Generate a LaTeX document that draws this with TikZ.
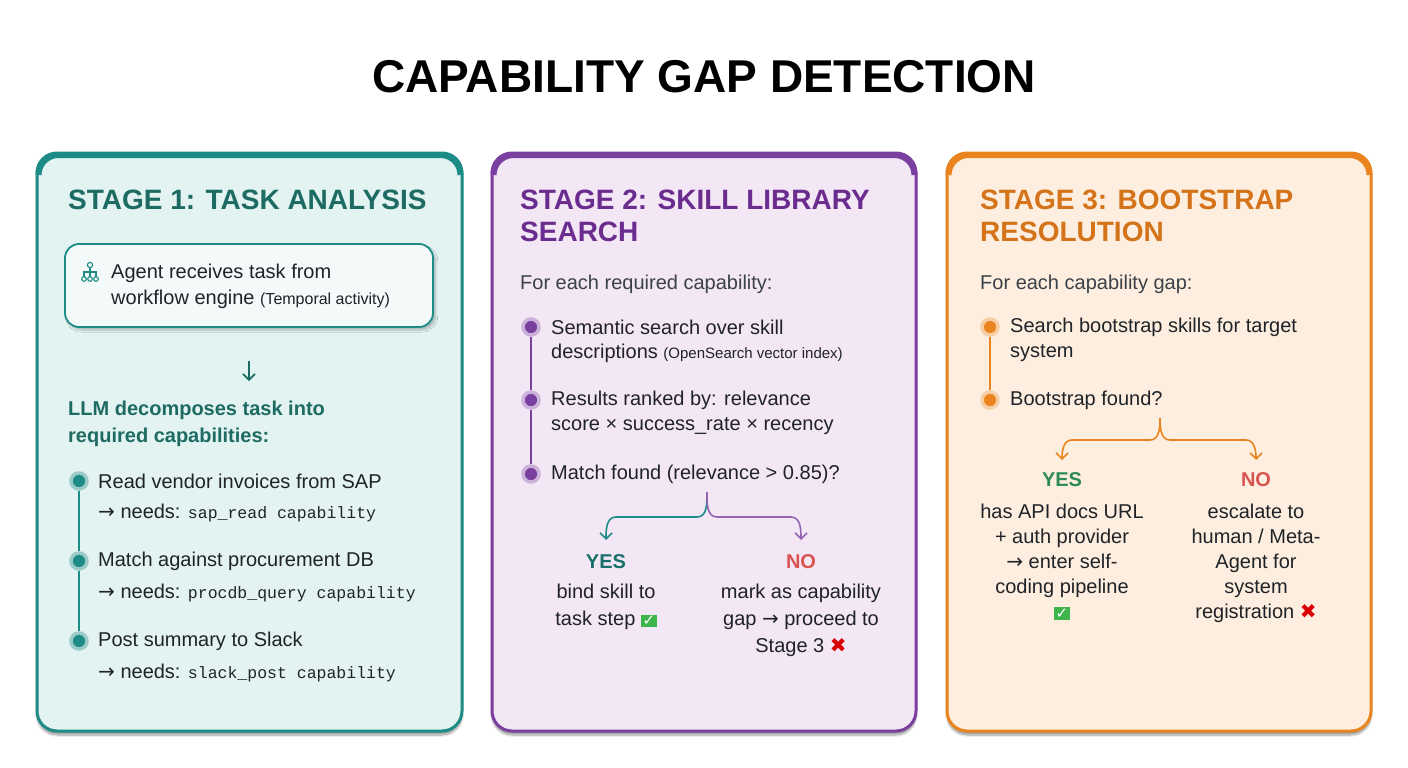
\documentclass[tikz,border=0pt]{standalone}
\usepackage{fontspec}
\setmainfont{Liberation Sans}
\setsansfont{Liberation Sans}
\setmonofont{Liberation Mono}
\newfontfamily\dejavu{DejaVu Sans}
\usetikzlibrary{shadows.blur,arrows.meta}
\definecolor{tealB}{HTML}{1E8C86}\definecolor{tealT}{HTML}{1D6B63}\definecolor{tealF}{HTML}{E2F3F1}
\definecolor{purB}{HTML}{7B3FA0}\definecolor{purT}{HTML}{6A2C8E}\definecolor{purF}{HTML}{F3E6F5}
\definecolor{oraB}{HTML}{E9841F}\definecolor{oraT}{HTML}{D4731A}\definecolor{oraF}{HTML}{FDEEDF}
\definecolor{txt}{HTML}{1F2328}\definecolor{sub}{HTML}{3A4148}
\definecolor{chkg}{HTML}{3DB54A}\definecolor{noR}{HTML}{D9534F}\definecolor{yesG}{HTML}{2E8B57}
\newcommand{\chk}{{\setlength\fboxsep{1.5pt}\colorbox{chkg}{\color{white}\dejavu\bfseries\fontsize{15}{15}\selectfont ✓}}}
\newcommand{\crs}{{\color{red!85!black}\dejavu ✖}}
\newcommand{\arr}{{\dejavu →}}
\begin{document}
\begin{tikzpicture}[x=1pt,y=-1pt,
  head/.style={anchor=west,font=\fontsize{28}{32}\selectfont\bfseries,inner sep=0},
  body/.style={anchor=west,font=\fontsize{20}{26}\selectfont,text=txt,inner sep=0},
  cbody/.style={anchor=center,font=\fontsize{20}{26}\selectfont,text=txt,inner sep=0},
  panel/.style={rounded corners=20pt,line width=3pt,blur shadow={shadow blur steps=8,shadow xshift=0pt,shadow yshift=-4pt}},
  dot/.style={circle,minimum size=16pt,inner sep=0,line width=3.5pt},
  br/.style={line width=1.6pt,-{Straight Barb[length=6pt,width=12pt]}}]
\useasboundingbox (0,0) rectangle (1408,768);
\node[font=\fontsize{46}{50}\selectfont\bfseries,text=black] (title) at (704,77) {CAPABILITY GAP DETECTION};
% panels
\foreach \xa/\xb/\bc/\fc/\nm in {37/462/tealB/tealF/pa,492/916/purB/purF/pb,947/1371/oraB/oraF/pc}{
  \draw[panel,draw=\bc,fill=\fc] (\xa,153) rectangle (\xb,731);
  \draw[line width=6pt,draw=\bc] (\xa+1.5,175) arc[start angle=180,end angle=270,radius=20] -- (\xb-21.5,155) arc[start angle=270,end angle=360,radius=20];
}
% panel 1
\node[head,text=tealT] (h1) at (68,200) {STAGE 1: TASK ANALYSIS};
\node[draw=tealB,line width=1.8pt,fill=white!60!tealF,rounded corners=14pt,minimum width=368pt,minimum height=83pt,blur shadow={shadow blur steps=6,shadow yshift=-3pt,shadow opacity=25}] (b1) at (249,285.5) {};
\begin{scope}[tealB,line width=1.1pt]
\draw (90,265) circle (2.6); \draw (84,279) circle (2.3); \draw (90,279) circle (2.3); \draw (96,279) circle (2.3);
\draw (90,267.6) -- (90,276.7); \draw (84,276.7) -- (84,272) -- (96,272) -- (96,276.7);
\end{scope}
\node[body] (t1a) at (111,273) {Agent receives task from};
\node[body] (t1b) at (111,299) {workflow engine {\fontsize{16}{20}\selectfont (Temporal activity)}};
\coordinate (a1s) at (249,361); \coordinate (a1e) at (249,381);
\draw[line width=1.6pt,tealT,-{Straight Barb[length=6pt,width=12pt]}] (a1s) -- (a1e);
\node[body,text=tealT,font=\fontsize{20}{26}\selectfont\bfseries] (l1) at (68,410) {LLM decomposes task into};
\node[body,text=tealT,font=\fontsize{20}{26}\selectfont\bfseries] (l2) at (68,437) {required capabilities:};
\node[dot,draw=tealB!45,fill=tealB] (d11) at (79,481) {};
\node[dot,draw=tealB!45,fill=tealB] (d12) at (79,561) {};
\node[dot,draw=tealB!45,fill=tealB] (d13) at (79,641) {};
\draw[tealB,line width=2pt] (d11) -- (d12) (d12) -- (d13);
\node[body] (c1a) at (98,481) {Read vendor invoices from SAP};
\node[body] (c1b) at (98,513) {\arr{} needs: {\ttfamily\fontsize{16.5}{20}\selectfont sap\_read capability}};
\node[body] (c2a) at (98,561) {Match against procurement DB};
\node[body] (c2b) at (98,593) {\arr{} needs: {\ttfamily\fontsize{16.5}{20}\selectfont procdb\_query capability}};
\node[body] (c3a) at (98,641) {Post summary to Slack};
\node[body] (c3b) at (98,673) {\arr{} needs: {\ttfamily\fontsize{16.5}{20}\selectfont slack\_post capability}};
% panel 2
\node[head,text=purT] (h2a) at (520,200) {STAGE 2: SKILL LIBRARY};
\node[head,text=purT] (h2b) at (520,232) {SEARCH};
\node[body,text=sub,font=\fontsize{20}{26}\selectfont] (f2) at (520,284) {For each required capability:};
\node[dot,draw=purB!40,fill=purB] (d21) at (531,327) {};
\node[dot,draw=purB!40,fill=purB] (d22) at (531,400) {};
\node[dot,draw=purB!40,fill=purB] (d23) at (531,474) {};
\draw[purB,line width=2pt] (d21) -- (d22) (d22) -- (d23);
\node[body] (s1a) at (551,327) {Semantic search over skill};
\node[body] (s1b) at (551,353) {descriptions {\fontsize{15}{20}\selectfont (OpenSearch vector index)}};
\node[body] (s2a) at (551,400) {Results ranked by: relevance};
\node[body] (s2b) at (551,426) {score × success\_rate × recency};
\node[body] (s3) at (551,474) {Match found (relevance > 0.85)?};
\coordinate (j2) at (707,492); \coordinate (y2) at (606,540); \coordinate (n2) at (801,540);
\draw[br,tealB] (j2) to[out=-90,in=0] (697,517) -- (616,517) to[out=180,in=90] (y2);
\draw[br,purB!80] (j2) to[out=-90,in=180] (717,517) -- (791,517) to[out=0,in=90] (n2);
\node[cbody,text=tealB!80!black,font=\fontsize{20}{24}\selectfont\bfseries] (yes2) at (606,562) {YES};
\node[cbody] (yt2) at (606,607) {\begin{tabular}{@{}c@{}}bind skill to\\[1pt] task step \chk\end{tabular}};
\node[cbody,text=noR,font=\fontsize{20}{24}\selectfont\bfseries] (no2) at (801,562) {NO};
\node[cbody] (nt2) at (801,620) {\begin{tabular}{@{}c@{}}mark as capability\\[1pt] gap \arr{} proceed to\\[1pt] Stage 3 \crs\end{tabular}};
% panel 3
\node[head,text=oraT] (h3a) at (980,200) {STAGE 3: BOOTSTRAP};
\node[head,text=oraT] (h3b) at (980,232) {RESOLUTION};
\node[body,text=sub] (f3) at (980,284) {For each capability gap:};
\node[dot,draw=oraB!40,fill=oraB] (d31) at (990,327) {};
\node[dot,draw=oraB!40,fill=oraB] (d32) at (990,400) {};
\draw[oraB,line width=2pt] (d31) -- (d32);
\node[body] (r1a) at (1010,327) {Search bootstrap skills for target};
\node[body] (r1b) at (1010,353) {system};
\node[body] (r2) at (1010,400) {Bootstrap found?};
\coordinate (j3) at (1160,418); \coordinate (y3) at (1062,460); \coordinate (n3) at (1256,460);
\draw[br,oraB] (j3) to[out=-90,in=0] (1150,440) -- (1072,440) to[out=180,in=90] (y3);
\draw[br,oraB] (j3) to[out=-90,in=180] (1170,440) -- (1246,440) to[out=0,in=90] (n3);
\node[cbody,text=yesG,font=\fontsize{20}{24}\selectfont\bfseries] (yes3) at (1062,480) {YES};
\node[cbody] (yt3) at (1062,563) {\begin{tabular}{@{}c@{}}has API docs URL\\[-1pt] + auth provider\\[-1pt] \arr{} enter self-\\[-1pt] coding pipeline\\[-1pt] \chk\end{tabular}};
\node[cbody,text=noR,font=\fontsize{20}{24}\selectfont\bfseries] (no3) at (1256,480) {NO};
\node[cbody] (nt3) at (1256,563) {\begin{tabular}{@{}c@{}}escalate to\\[-1pt] human / Meta-\\[-1pt] Agent for\\[-1pt] system\\[-1pt] registration \crs\end{tabular}};
\end{tikzpicture}
\end{document}
